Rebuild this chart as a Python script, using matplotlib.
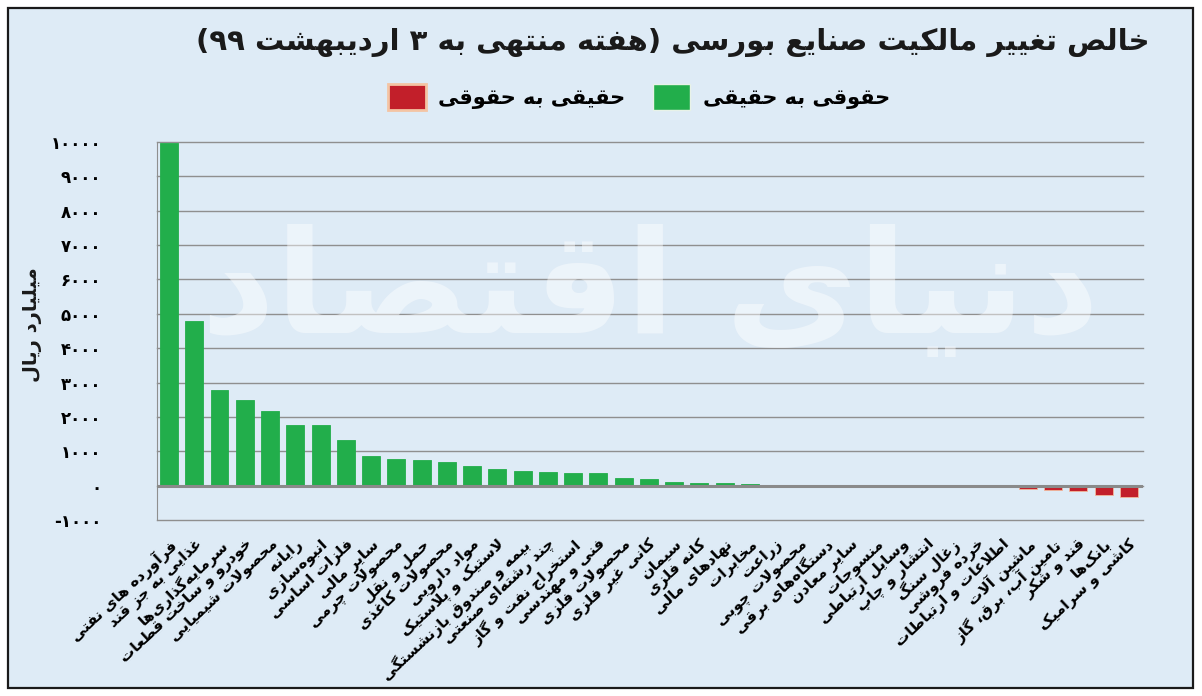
import re
import matplotlib
matplotlib.use('Agg')
import matplotlib.pyplot as plt
from matplotlib.patches import Patch, Rectangle
import numpy as np

# داده‌های نمودار
categories = [
    'فرآورده های نفتی', 'غذایی به جز قند', 'سرمایه‌گذاری‌ها', 'خودرو و ساخت قطعات',
    'محصولات شیمیایی', 'رایانه', 'انبوه‌سازی', 'فلزات اساسی', 'سایر مالی',
    'محصولات چرمی', 'حمل و نقل', 'محصولات کاغذی', 'مواد دارویی', 'لاستیک و پلاستیک',
    'بیمه و صندوق بازنشستگی', 'چند رشته‌ای صنعتی', 'استخراج نفت و گاز', 'فنی و مهندسی',
    'محصولات فلزی', 'کانی غیر فلزی', 'سیمان', 'کانه فلزی', 'نهادهای مالی', 'مخابرات',
    'زراعت', 'محصولات چوبی', 'دستگاه‌های برقی', 'سایر معادن', 'منسوجات',
    'وسایل ارتباطی', 'انتشار و چاپ', 'زغال سنگ', 'خرده فروشی', 'اطلاعات و ارتباطات',
    'ماشین آلات', 'تامین آب، برق، گاز', 'قند و شکر', 'بانک‌ها', 'کاشی و سرامیک',
]
values = [
    9970, 4780, 2780, 2500, 2170, 1770, 1760, 1320, 875, 775, 745, 690, 560, 490,
    420, 410, 380, 360, 220, 195, 100, 80, 80, 50, 20,
    0, 0, 0, 0, 0, 0, 0,
    -30, -50, -90, -115, -145, -260, -320,
]
yticks = list(range(-1000, 10001, 1000))

title = 'خالص تغییر مالکیت صنایع بورسی (هفته منتهی به ۳ اردیبهشت ۹۹)'
legend_labels = ['حقیقی به حقوقی', 'حقوقی به حقیقی']
ylabel = 'میلیارد ریال'
watermark = 'دنیای اقتصاد'

GREEN = '#22ae4b'
RED = '#c21f2a'
BG = '#deebf6'

# شکل‌های حروف: (تنها، پایانی، آغازی، میانی)
FORMS = {
    'ا': ('\uFE8D', '\uFE8E', None, None),
    'آ': ('\uFE81', '\uFE82', None, None),
    'ب': ('\uFE8F', '\uFE90', '\uFE91', '\uFE92'),
    'پ': ('\uFB56', '\uFB57', '\uFB58', '\uFB59'),
    'ت': ('\uFE95', '\uFE96', '\uFE97', '\uFE98'),
    'ث': ('\uFE99', '\uFE9A', '\uFE9B', '\uFE9C'),
    'ج': ('\uFE9D', '\uFE9E', '\uFE9F', '\uFEA0'),
    'چ': ('\uFB7A', '\uFB7B', '\uFB7C', '\uFB7D'),
    'ح': ('\uFEA1', '\uFEA2', '\uFEA3', '\uFEA4'),
    'خ': ('\uFEA5', '\uFEA6', '\uFEA7', '\uFEA8'),
    'د': ('\uFEA9', '\uFEAA', None, None),
    'ذ': ('\uFEAB', '\uFEAC', None, None),
    'ر': ('\uFEAD', '\uFEAE', None, None),
    'ز': ('\uFEAF', '\uFEB0', None, None),
    'ژ': ('\uFB8A', '\uFB8B', None, None),
    'س': ('\uFEB1', '\uFEB2', '\uFEB3', '\uFEB4'),
    'ش': ('\uFEB5', '\uFEB6', '\uFEB7', '\uFEB8'),
    'ص': ('\uFEB9', '\uFEBA', '\uFEBB', '\uFEBC'),
    'ض': ('\uFEBD', '\uFEBE', '\uFEBF', '\uFEC0'),
    'ط': ('\uFEC1', '\uFEC2', '\uFEC3', '\uFEC4'),
    'ظ': ('\uFEC5', '\uFEC6', '\uFEC7', '\uFEC8'),
    'ع': ('\uFEC9', '\uFECA', '\uFECB', '\uFECC'),
    'غ': ('\uFECD', '\uFECE', '\uFECF', '\uFED0'),
    'ف': ('\uFED1', '\uFED2', '\uFED3', '\uFED4'),
    'ق': ('\uFED5', '\uFED6', '\uFED7', '\uFED8'),
    'ک': ('\uFB8E', '\uFB8F', '\uFB90', '\uFB91'),
    'گ': ('\uFB92', '\uFB93', '\uFB94', '\uFB95'),
    'ل': ('\uFEDD', '\uFEDE', '\uFEDF', '\uFEE0'),
    'م': ('\uFEE1', '\uFEE2', '\uFEE3', '\uFEE4'),
    'ن': ('\uFEE5', '\uFEE6', '\uFEE7', '\uFEE8'),
    'و': ('\uFEED', '\uFEEE', None, None),
    'ه': ('\uFEE9', '\uFEEA', '\uFEEB', '\uFEEC'),
    'ی': ('\uFEEF', '\uFEF0', '\uFEF3', '\uFEF4'),
}
LAM_ALEF = {'ا': ('\uFEFB', '\uFEFC'), 'آ': ('\uFEF5', '\uFEF6')}


def joins_left(ch):
    return ch in FORMS and FORMS[ch][2] is not None


def shape_line(s):
    out = []
    i = 0
    n = len(s)
    while i < n:
        c = s[i]
        if c not in FORMS:
            if c != '\u200c':
                out.append(c)
            i += 1
            continue
        jp = i > 0 and joins_left(s[i - 1])
        if c == 'ل' and i + 1 < n and s[i + 1] in LAM_ALEF:
            lig = LAM_ALEF[s[i + 1]]
            out.append(lig[1] if jp else lig[0])
            i += 2
            continue
        jn = joins_left(c) and i + 1 < n and s[i + 1] in FORMS
        iso, fin, ini, med = FORMS[c]
        if jp and jn:
            out.append(med)
        elif jp:
            out.append(fin)
        elif jn:
            out.append(ini)
        else:
            out.append(iso)
        i += 1
    return ''.join(out)


def rtl(s):
    lines = []
    for line in s.split('\n'):
        v = shape_line(line)[::-1]
        v = v.translate(str.maketrans('()', ')('))
        v = re.sub(r'[0-9\u06F0-\u06F9]+', lambda m: m.group(0)[::-1], v)
        lines.append(v)
    return '\n'.join(lines)


def fa_num(v):
    return str(v).translate(str.maketrans('0123456789', '۰۱۲۳۴۵۶۷۸۹'))


plt.rcParams['font.family'] = ['DejaVu Sans']

fig = plt.figure(figsize=(12.02, 6.96), dpi=100, facecolor='white')
fig.patches.append(Rectangle((8 / 1202, 8 / 696), 1185 / 1202, 680 / 696,
                             transform=fig.transFigure, facecolor=BG,
                             edgecolor='#1a1a1a', linewidth=1.6, zorder=-5))

ax = fig.add_axes([157 / 1202, 1 - 520 / 696, 986 / 1202, 378 / 696])
ax.patch.set_alpha(0)

x = np.arange(len(categories))
colors = [GREEN if v >= 0 else RED for v in values]
edges = [GREEN if v >= 0 else '#f2b89c' for v in values]
ax.bar(x, values, width=0.71, color=colors, edgecolor=edges, linewidth=0.6, zorder=3)

ax.set_xlim(-0.475, len(categories) - 0.44)
ax.set_ylim(-1000, 10000)
ax.set_yticks(yticks)
ax.set_yticklabels([fa_num(t) for t in yticks], fontsize=12, fontweight='bold')
for t in yticks:
    ax.axhline(t, color='#8f8f8f', linewidth=1.0, zorder=1, clip_on=False)
ax.axhline(0, color='#8a8a8a', linewidth=2.2, zorder=4)
for s in ['top', 'right', 'bottom']:
    ax.spines[s].set_visible(False)
ax.spines['left'].set_color('#8f8f8f')
ax.tick_params(axis='y', length=0, pad=40)
ax.tick_params(axis='x', length=0, pad=12)
ax.set_xticks(x)
ax.set_xticklabels([rtl(c) for c in categories], rotation=43, ha='right', va='top',
                   rotation_mode='anchor', fontsize=11, fontweight='bold')

# واترمارک
ax.text(0.5, 0.6, rtl(watermark), transform=ax.transAxes, ha='center', va='center',
        fontsize=104, fontweight='bold', color='white', alpha=0.45, zorder=5)

fig.text(1150 / 1202, 1 - 42 / 696, rtl(title), ha='right', va='center',
         fontsize=21, fontweight='bold', color='#1a1a1a')
fig.text(33 / 1202, 1 - 325 / 696, rtl(ylabel), rotation=90, ha='center', va='center',
         fontsize=14, fontweight='bold', color='#1a1a1a')

handles = [Patch(facecolor=RED, edgecolor='#f4c4a4', linewidth=2),
           Patch(facecolor=GREEN, edgecolor='#e8f2e8', linewidth=1)]
fig.legend(handles, [rtl(l) for l in legend_labels], ncol=2, frameon=False,
           loc='center', bbox_to_anchor=(639 / 1202, 1 - 97 / 696),
           prop={'size': 15, 'weight': 'bold'}, handlelength=1.8, handleheight=1.5,
           handletextpad=0.6, columnspacing=1.3)

fig.savefig('out.png', dpi=100, facecolor='white')
